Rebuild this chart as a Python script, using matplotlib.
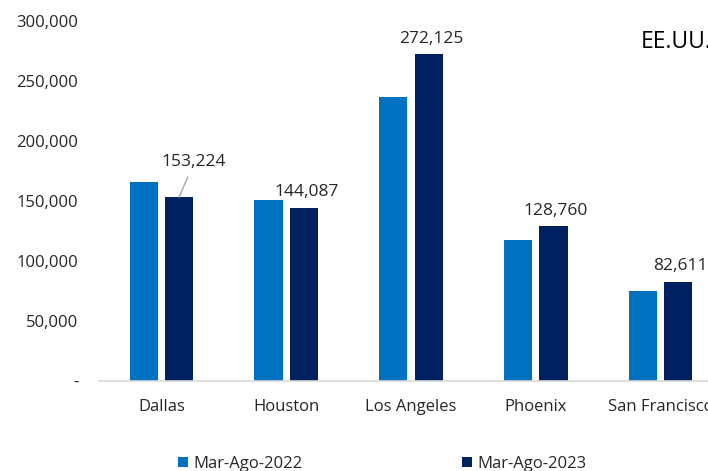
import numpy as np
import matplotlib
matplotlib.use("Agg")
import matplotlib.pyplot as plt
from matplotlib.ticker import FuncFormatter

cities = ["Dallas", "Houston", "Los Angeles", "Phoenix", "San Francisco"]
v2022 = [166000, 150500, 236700, 117500, 75000]
v2023 = [153224, 144087, 272125, 128760, 82611]
series_names = ["Mar-Ago-2022", "Mar-Ago-2023"]
yticks = [0, 50000, 100000, 150000, 200000, 250000, 300000]

C22 = "#0070C0"
C23 = "#002060"
TXT = "#262626"

plt.rcParams["font.family"] = ["Open Sans", "DejaVu Sans"]

fig = plt.figure(figsize=(7.08, 4.71), dpi=100)
# axes deliberately runs past the right edge, like the cropped original
ax = fig.add_axes([99 / 708, 90 / 471, 624 / 708, 360 / 471])

x = np.arange(len(cities))
w = 0.225
off = 0.142
ax.bar(x - off, v2022, w, color=C22, label=series_names[0])
ax.bar(x + off, v2023, w, color=C23, label=series_names[1])

ax.set_xlim(-0.5, len(cities) - 0.5)
ax.set_ylim(0, 300000)
ax.set_yticks(yticks)
ax.yaxis.set_major_formatter(FuncFormatter(lambda v, p: "-" if v == 0 else f"{int(v):,}"))
ax.set_xticks(x)
ax.set_xticklabels(cities)
ax.tick_params(axis="y", length=0, pad=15, labelsize=12, labelcolor=TXT)
ax.tick_params(axis="x", length=0, pad=13, labelsize=12, labelcolor=TXT)
for s in ["top", "right", "left"]:
    ax.spines[s].set_visible(False)
ax.spines["bottom"].set_color("#D9D9D9")
ax.spines["bottom"].set_linewidth(1.2)

# data labels on 2023 bars
for i, v in enumerate(v2023):
    if i == 0:
        ax.annotate(f"{v:,}", xy=(x[i] + off, v), xytext=(x[i] + off + 0.12, v + 29000),
                    ha="center", va="center", fontsize=12.5, color=TXT,
                    arrowprops=dict(arrowstyle="-", color="#A6A6A6", lw=1, shrinkA=3, shrinkB=0))
    else:
        ax.text(x[i] + off + 0.02, v + 6500, f"{v:,}", ha="center", va="bottom",
                fontsize=12.5, color=TXT)

fig.text(641 / 708, 1 - 42 / 471, "EE.UU.", fontsize=16.5, color="black", va="center", ha="left")

fig.legend(loc="center left", bbox_to_anchor=(163 / 708, 1 - 464 / 471), ncol=2,
           frameon=False, fontsize=12, handlelength=0.6, handleheight=0.6,
           handletextpad=0.3, columnspacing=9.6, labelcolor=TXT)

fig.savefig("out.png", dpi=100)
